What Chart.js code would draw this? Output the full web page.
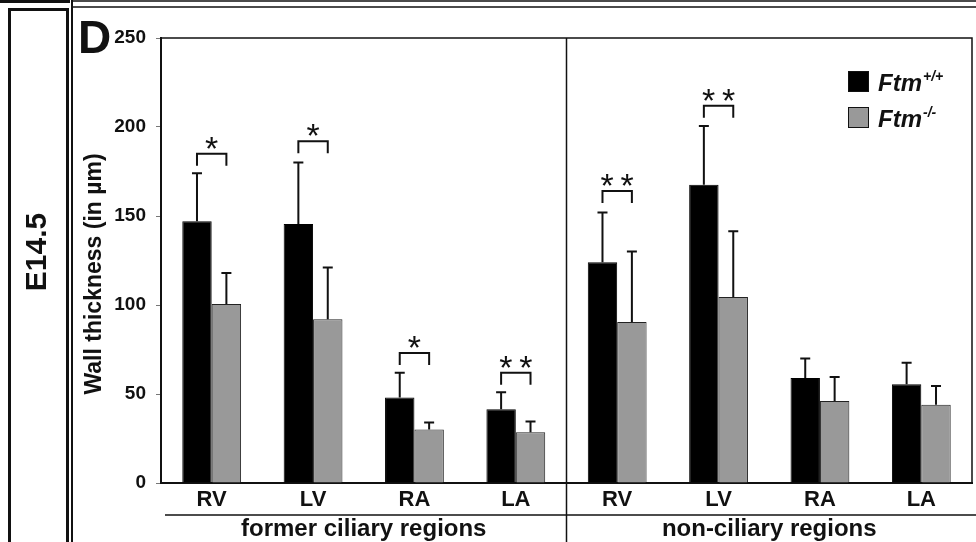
<!DOCTYPE html>
<html>
<head>
<meta charset="utf-8">
<script src="https://cdn.jsdelivr.net/npm/chart.js@4"></script>
<style>
  html, body { margin: 0; padding: 0; background: #fff; }
  #wrap { width: 976px; height: 542px; }
</style>
</head>
<body>
<div id="wrap"><canvas id="myChart" width="976" height="542"></canvas></div>
<script>
// data
const categories = ['RV', 'LV', 'RA', 'LA', 'RV', 'LV', 'RA', 'LA'];
const wildType = [147, 145.5, 48, 41.5, 124, 167.5, 59, 55.5];
const wildTypeSD = [27, 34.5, 14, 9.5, 28, 33, 11, 12];
const knockout = [100.5, 92, 30, 28.5, 90.5, 104.5, 46, 44];
const knockoutSD = [17.5, 29, 4, 6, 39.5, 37, 13.5, 10.5];
const significance = ['*', '*', '*', '**', '**', '**', '', ''];
const bracketAt = [185, 192, 73, 62, 164, 212, null, null];
const groups = [
  { label: 'former ciliary regions', start: 0, end: 3 },
  { label: 'non-ciliary regions', start: 4, end: 7 }
];
const yTicks = [0, 50, 100, 150, 200, 250];

const FONT = '"Liberation Sans", Arial, sans-serif';

// error bars + significance brackets
const errorBars = {
  id: 'errorBars',
  afterDatasetsDraw(chart) {
    const ctx = chart.ctx;
    const y = chart.scales.y;
    const sds = [wildTypeSD, knockoutSD];
    ctx.save();
    ctx.strokeStyle = '#111';
    ctx.lineWidth = 2;
    chart.data.datasets.forEach((ds, di) => {
      const meta = chart.getDatasetMeta(di);
      meta.data.forEach((bar, i) => {
        const top = y.getPixelForValue(ds.data[i] + sds[di][i]);
        ctx.beginPath();
        ctx.moveTo(bar.x, bar.y);
        ctx.lineTo(bar.x, top);
        ctx.moveTo(bar.x - 5, top);
        ctx.lineTo(bar.x + 5, top);
        ctx.stroke();
      });
    });
    // brackets
    const m0 = chart.getDatasetMeta(0), m1 = chart.getDatasetMeta(1);
    ctx.fillStyle = '#111';
    ctx.font = '34px ' + FONT;
    ctx.textAlign = 'center';
    ctx.textBaseline = 'alphabetic';
    significance.forEach((s, i) => {
      if (!s) return;
      const x0 = m0.data[i].x, x1 = m1.data[i].x;
      const by = y.getPixelForValue(bracketAt[i]);
      ctx.beginPath();
      ctx.moveTo(x0, by + 12);
      ctx.lineTo(x0, by);
      ctx.lineTo(x1, by);
      ctx.lineTo(x1, by + 12);
      ctx.stroke();
      ctx.fillText(s.split('').join('\u2009'), (x0 + x1) / 2, by + 6);
    });
    ctx.restore();
  }
};

// frame, titles, group labels, legend
const decor = {
  id: 'decor',
  afterDraw(chart) {
    const ctx = chart.ctx;
    const a = chart.chartArea;
    const xs = chart.scales.x;
    const W = chart.width, H = chart.height;
    ctx.save();
    ctx.strokeStyle = '#111';
    ctx.fillStyle = '#111';

    // outer frames
    ctx.fillRect(0, 0, 70, 3);
    ctx.lineWidth = 1.5;
    ctx.beginPath();
    ctx.moveTo(72, 1); ctx.lineTo(W, 1);
    ctx.moveTo(72, 7); ctx.lineTo(W, 7);
    ctx.stroke();
    ctx.lineWidth = 3;
    ctx.beginPath();
    ctx.moveTo(9.5, H); ctx.lineTo(9.5, 9.5); ctx.lineTo(67.5, 9.5); ctx.lineTo(67.5, H);
    ctx.stroke();
    ctx.lineWidth = 2;
    ctx.beginPath();
    ctx.moveTo(72, 0); ctx.lineTo(72, H);
    ctx.stroke();

    // E14.5
    ctx.save();
    ctx.translate(38, 252);
    ctx.rotate(-Math.PI / 2);
    ctx.font = 'bold 30px ' + FONT;
    ctx.textAlign = 'center';
    ctx.textBaseline = 'middle';
    ctx.fillText('E14.5', 0, 0);
    ctx.restore();

    // panel letter
    ctx.font = 'bold 46px ' + FONT;
    ctx.textAlign = 'left';
    ctx.textBaseline = 'alphabetic';
    ctx.fillText('D', 78, 53);

    // y title
    ctx.save();
    ctx.translate(95, 274);
    ctx.rotate(-Math.PI / 2);
    ctx.font = 'bold 23px ' + FONT;
    ctx.textAlign = 'center';
    ctx.textBaseline = 'middle';
    ctx.fillText('Wall thickness (in \u00b5m)', 0, 0);
    ctx.restore();

    // plot box top / right
    ctx.lineWidth = 1.5;
    ctx.beginPath();
    ctx.moveTo(a.left, a.top); ctx.lineTo(a.right, a.top); ctx.lineTo(a.right, a.bottom);
    ctx.stroke();

    // group divider
    const half = (xs.getPixelForTick(1) - xs.getPixelForTick(0)) / 2;
    const divX = (xs.getPixelForTick(3) + xs.getPixelForTick(4)) / 2;
    ctx.beginPath();
    ctx.moveTo(divX, a.top); ctx.lineTo(divX, H);
    ctx.stroke();

    // group underlines + labels
    ctx.font = 'bold 24px ' + FONT;
    ctx.textAlign = 'center';
    groups.forEach((g, gi) => {
      let l = xs.getPixelForTick(g.start) - half;
      let r = xs.getPixelForTick(g.end) + half;
      if (gi === 0) l += 4;
      if (gi === groups.length - 1) r = W;
      ctx.beginPath();
      ctx.moveTo(l, 515); ctx.lineTo(r, 515);
      ctx.stroke();
      ctx.fillText(g.label, (xs.getPixelForTick(g.start) + xs.getPixelForTick(g.end)) / 2, 536);
    });

    // legend
    const sups = ['+/+', '-/-'];
    chart.data.datasets.forEach((ds, i) => {
      const lx = a.right - 124, ly = 71 + i * 36;
      ctx.fillStyle = ds.backgroundColor;
      ctx.fillRect(lx, ly, 21, 21);
      ctx.lineWidth = 1;
      ctx.strokeStyle = '#111';
      ctx.strokeRect(lx + 0.5, ly + 0.5, 20, 20);
      ctx.fillStyle = '#111';
      ctx.textAlign = 'left';
      ctx.font = 'italic bold 24px ' + FONT;
      ctx.fillText(ds.label, lx + 30, ly + 20);
      const w = ctx.measureText(ds.label).width;
      ctx.font = 'italic bold 14px ' + FONT;
      ctx.fillText(sups[i], lx + 31 + w, ly + 10);
    });
    ctx.restore();
  }
};

const data = {
  labels: categories,
  datasets: [
    { label: 'Ftm', data: wildType, backgroundColor: '#000000', borderColor: '#000000', borderWidth: 1 },
    { label: 'Ftm', data: knockout, backgroundColor: '#999999', borderColor: '#222222', borderWidth: 1 }
  ]
};

const config = {
  type: 'bar',
  data,
  options: {
    responsive: false,
    animation: false,
    layout: { padding: { left: 0, right: 4, top: 38, bottom: 0 } },
    datasets: { bar: { categoryPercentage: 0.58, barPercentage: 1.0 } },
    plugins: { legend: { display: false }, tooltip: { enabled: false } },
    scales: {
      x: {
        afterFit: (s) => { s.height = 59; },
        grid: { display: false },
        border: { display: true, color: '#111', width: 2 },
        ticks: { color: '#111', font: { family: FONT, size: 22, weight: 'bold' }, padding: -4, maxRotation: 0, autoSkip: false }
      },
      y: {
        min: 0, max: 250,
        afterFit: (s) => { s.width = 161; },
        afterBuildTicks: (s) => { s.ticks = yTicks.map(v => ({ value: v })); },
        grid: { drawOnChartArea: false, drawTicks: true, tickLength: 5, color: '#777' },
        border: { display: true, color: '#111', width: 2 },
        ticks: { color: '#111', font: { family: FONT, size: 19, weight: 'bold' }, padding: 10 }
      }
    }
  },
  plugins: [errorBars, decor]
};

const myChart = new Chart(document.getElementById('myChart'), config);
</script>
</body>
</html>
